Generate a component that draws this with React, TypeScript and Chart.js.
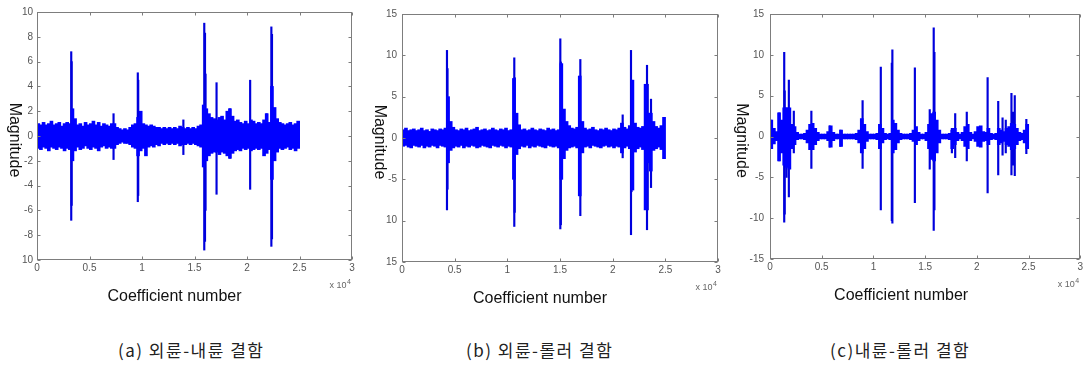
import React, { useEffect, useRef } from "react";
import { Chart, registerables } from "chart.js";

Chart.register(...registerables);

// ---------- shared axis data ----------
const binWidth = 250;
const xTickValues = [0, 5000, 10000, 15000, 20000, 25000, 30000];
const xTickLabels = ["0", "0.5", "1", "1.5", "2", "2.5", "3"];

// ---------- panel (a) ----------
const aYTicks = [-10, -8, -6, -4, -2, 0, 2, 4, 6, 8, 10];
const aYLabels = ["10", "-8", "-6", "-4", "-2", "0", "2", "4", "6", "8", "10"];
const aHigh = [
  1.0, 0.9, 1.1, 0.9, 1.0, 1.2, 0.9, 1.0, 1.1, 0.8, 1.0, 1.1, 1.0, 2.2, 1.4,
  0.9, 1.0, 0.8, 1.1, 0.9, 1.0, 1.2, 0.9, 1.1, 0.8, 1.0, 0.9, 0.8, 1.0, 1.0,
  0.7, 0.6, 0.5, 0.6, 0.5, 0.7, 0.9, 1.0, 1.5, 2.0,
  1.0, 0.9, 0.8, 0.9, 0.8, 0.7, 0.7, 0.6, 0.7, 0.6, 0.7, 0.6, 0.7, 0.6, 0.8, 0.7,
  0.6, 0.7, 0.6, 0.7, 0.6, 0.8, 0.9, 2.5, 2.2, 1.8, 1.5, 1.4, 1.3,
  1.5, 1.6, 1.3, 2.0, 2.2, 1.6, 1.2, 1.3, 1.1, 1.0, 1.2, 1.0, 1.3,
  1.2, 1.0, 1.1, 1.0, 1.3, 1.8, 1.1, 4.0, 2.3, 1.4,
  1.1, 1.0, 0.9, 1.0, 1.1, 0.9, 1.0, 1.2,
];
const aLow = [
  -1.0, -1.1, -0.9, -1.0, -1.2, -0.9, -1.0, -1.1, -0.9, -1.0, -1.2, -1.0, -1.1, -2.0, -1.2,
  -0.9, -1.1, -1.0, -0.8, -1.0, -1.1, -0.9, -1.0, -1.2, -0.9, -0.8, -1.0, -0.9, -1.0, -1.0,
  -0.7, -0.6, -0.5, -0.6, -0.6, -0.7, -0.9, -1.0, -1.6, -1.2,
  -1.0, -1.6, -0.9, -0.8, -0.9, -0.7, -0.8, -0.6, -0.7, -0.6, -0.7, -0.6, -0.7, -0.6, -0.8, -0.7,
  -0.7, -0.6, -0.7, -0.6, -0.7, -0.8, -0.9, -2.5, -2.0, -1.6, -1.4, -1.3, -1.3,
  -1.5, -1.3, -1.4, -1.6, -1.8, -1.4, -1.2, -1.1, -1.2, -1.0, -1.1, -1.0, -1.2,
  -1.1, -1.0, -1.1, -1.0, -1.6, -1.4, -1.1, -3.5, -2.0, -1.3,
  -1.0, -1.1, -1.0, -0.9, -1.1, -1.0, -1.2, -1.0,
];
const aSpikeX = [3260, 3300, 7290, 9600, 9640, 13940, 15930, 16000, 16050, 17100, 18370, 20300, 21870, 22320, 22380];
const aSpikeHigh = [6.8, 6.0, 1.8, 5.1, 4.5, 1.3, 9.1, 8.3, 5.0, 4.3, 2.2, 4.5, 1.8, 8.8, 8.2];
const aSpikeLow = [-6.8, -5.6, -1.9, -5.3, -4.8, -1.5, -9.2, -8.5, -6.0, -4.7, -1.8, -4.3, -1.3, -8.9, -8.3];

// ---------- panel (b) ----------
const bYTicks = [-15, -10, -5, 0, 5, 10, 15];
const bYLabels = ["15", "10", "-5", "0", "5", "10", "15"];
const bHigh = [
  1.0, 1.2, 0.9, 1.0, 1.1, 0.9, 1.0, 1.2, 0.9, 1.0, 0.8, 1.1, 1.0, 0.9, 1.1, 1.0, 1.2,
  5.0, 2.0, 1.3,
  1.0, 0.9, 1.1, 1.0, 1.2, 0.9, 1.0, 1.1, 1.3, 0.9, 1.0, 1.1, 0.9, 1.0, 1.2, 1.0, 0.9, 1.1, 1.0, 1.2, 0.9, 1.0,
  7.2, 3.0, 1.6,
  1.0, 1.1, 0.9, 1.0, 1.2, 1.0, 0.9, 1.1, 1.0, 0.9, 1.2, 1.0, 1.1, 0.9, 1.0,
  9.0, 3.5, 2.0, 1.5, 1.2, 1.1, 1.3, 7.5, 2.0,
  1.2, 1.0, 1.1, 1.3, 1.0, 0.9, 1.1, 1.0, 1.2, 1.0, 0.9, 1.1, 1.0, 1.2,
  1.8, 1.3, 1.1, 1.5, 7.0, 1.8, 1.3, 1.2, 1.4, 6.5, 3.0, 3.0, 2.0,
  1.4, 1.2, 1.5, 2.5,
];
const bLow = [
  -1.0, -0.9, -1.1, -1.2, -0.9, -1.0, -1.1, -0.9, -1.2, -1.0, -1.1, -0.9, -1.0, -1.2, -0.9, -1.0, -1.1,
  -3.0, -1.5, -1.2,
  -1.0, -1.1, -0.9, -1.2, -1.0, -1.1, -0.9, -1.0, -1.2, -1.1, -0.9, -1.0, -1.1, -1.2, -0.9, -1.0, -1.1, -0.9, -1.0, -1.2, -1.0, -1.1,
  -5.0, -2.0, -1.3,
  -1.0, -1.1, -0.9, -1.2, -1.0, -1.1, -0.9, -1.0, -1.1, -1.2, -0.9, -1.0, -1.1, -1.0, -1.2,
  -5.0, -2.5, -1.5, -1.2, -1.1, -1.0, -1.2, -7.0, -1.8,
  -1.1, -1.0, -1.2, -0.9, -1.0, -1.1, -1.2, -1.0, -0.9, -1.1, -1.0, -1.2, -1.0, -1.1,
  -1.8, -1.2, -1.0, -1.3, -6.3, -1.7, -1.3, -1.1, -1.4, -8.7, -3.0, -4.0, -1.5,
  -1.3, -1.1, -1.4, -2.5,
];
const bSpikeX = [4270, 4320, 10660, 10700, 15030, 15080, 16930, 20950, 21740, 21790, 23260, 23330, 23640, 24900];
const bSpikeHigh = [10.6, 8.4, 9.7, 7.3, 12.0, 9.2, 9.5, 2.8, 10.6, 7.0, 8.8, 6.5, 4.7, 2.5];
const bSpikeLow = [-8.7, -6.2, -10.7, -9.0, -11.0, -10.5, -9.4, -2.4, -11.7, -6.5, -11.1, -8.7, -6.0, -2.5];

// ---------- panel (c) ----------
const cYTicks = [-15, -10, -5, 0, 5, 10, 15];
const cYLabels = ["-15", "-10", "-5", "0", "5", "10", "15"];
const cHigh = [
  2.0, 1.0, 0.6, 2.9, 2.0, 3.5, 3.5, 3.5, 1.5, 1.2,
  0.5, 0.3, 0.3, 0.4, 0.8, 1.5, 1.6, 1.0, 0.5, 0.3,
  0.3, 0.3, 0.6, 1.3, 0.5, 0.3, 0.3, 0.8, 0.3, 0.3,
  0.3, 0.3, 0.3, 0.4, 0.8, 2.2, 1.5, 0.6, 0.3, 0.3,
  0.3, 0.4, 1.5, 1.0, 0.4, 0.3, 0.4, 2.0, 1.6, 0.8,
  0.4, 0.3, 0.3, 0.3, 0.4, 0.8, 1.2, 0.5, 0.3, 0.3,
  0.5, 1.5, 2.8, 3.0, 2.0, 0.8, 0.3, 0.3, 0.3, 0.4,
  0.8, 1.0, 0.5, 0.3, 0.5, 1.2, 1.5, 0.5, 0.3, 0.6,
  1.2, 1.3, 0.6, 0.5, 1.0, 0.4, 0.3, 0.4, 1.0, 0.8,
  0.6, 1.0, 1.2, 1.6, 1.5, 1.0, 0.5, 0.4, 0.8, 1.5,
];
const cLow = [
  -1.5, -0.9, -0.5, -3.0, -2.0, -3.5, -3.8, -4.0, -1.5, -1.0,
  -0.4, -0.3, -0.3, -0.4, -0.8, -1.6, -1.6, -1.0, -0.5, -0.3,
  -0.3, -0.3, -0.5, -1.3, -0.5, -0.3, -0.3, -1.2, -0.3, -0.3,
  -0.3, -0.3, -0.3, -0.4, -0.8, -2.0, -1.5, -0.6, -0.3, -0.3,
  -0.3, -0.4, -1.5, -0.8, -0.4, -0.3, -0.4, -2.0, -1.6, -0.8,
  -0.4, -0.3, -0.3, -0.3, -0.4, -0.6, -1.0, -0.5, -0.3, -0.3,
  -0.5, -1.5, -2.8, -3.0, -2.0, -0.8, -0.3, -0.3, -0.3, -0.4,
  -1.5, -1.0, -0.5, -0.3, -0.5, -1.2, -1.5, -0.5, -0.3, -0.6,
  -1.2, -1.3, -0.6, -0.5, -1.0, -0.4, -0.3, -0.4, -1.0, -0.8,
  -0.6, -1.0, -1.2, -1.6, -1.5, -1.0, -0.5, -0.4, -0.8, -1.5,
];
const cSpikeX = [120, 896, 1375, 1420, 1600, 1823, 2303, 4000, 5760, 6810, 8955, 10715, 11780, 11834, 14010, 15448, 15832, 15900, 17590, 17910, 19030, 21045, 22070, 22490, 22800, 23350, 23500, 23670, 24790];
const cSpikeHigh = [2.0, 2.9, 10.3, 5.6, 3.5, 6.9, 3.1, 3.1, 1.3, 0.8, 4.4, 8.5, 9.0, 10.6, 8.4, 3.3, 13.3, 10.3, 1.0, 2.8, 3.0, 7.2, 4.3, 2.3, 2.0, 5.3, 3.0, 5.0, 2.1];
const cSpikeLow = [-1.5, -3.0, -10.5, -9.5, -5.0, -7.4, -2.0, -3.9, -1.3, -1.2, -3.9, -9.0, -10.3, -10.6, -8.1, -4.0, -11.5, -9.0, -2.0, -2.6, -3.0, -6.9, -4.7, -2.3, -2.0, -4.7, -3.5, -4.8, -2.1];

const captions = ["(a) 외륜-내륜 결함", "(b) 외륜-롤러 결함", "(c)내륜-롤러 결함"];

const xTitle = "Coefficient number";
const yTitle = "Magnitude";

type PanelProps = {
  left: number;
  width: number;
  height: number;
  padTop: number;
  padRight: number;
  yAxisWidth: number;
  xAxisHeight: number;
  yTickPad: number;
  yTitleDx: number;
  xTitleDx: number;
  yMin: number;
  yMax: number;
  yStep: number;
  yTicks: number[];
  yLabels: string[];
  high: number[];
  low: number[];
  spikeX: number[];
  spikeHigh: number[];
  spikeLow: number[];
};

const FONT = '"Liberation Sans", Arial, Helvetica, sans-serif';

function Panel(p: PanelProps) {
  const ref = useRef<HTMLCanvasElement | null>(null);
  useEffect(() => {
    if (!ref.current) return;
    const frame = {
      id: "matlabFrame",
      afterDraw(chart: any) {
        const { ctx, chartArea } = chart;
        const { left, right, top, bottom } = chartArea;
        const xs = chart.scales.x;
        const ys = chart.scales.y;
        ctx.save();
        ctx.strokeStyle = "#7d7d7d";
        ctx.lineWidth = 1;
        const L = Math.round(left) + 0.5;
        const R = Math.round(right) - 0.5;
        const T = Math.round(top) + 0.5;
        const B = Math.round(bottom) - 0.5;
        ctx.strokeRect(L, T, R - L, B - T);
        ctx.beginPath();
        const tk = 3;
        xTickValues.forEach((v) => {
          const px = Math.round(xs.getPixelForValue(v)) + 0.5;
          ctx.moveTo(px, B);
          ctx.lineTo(px, B - tk);
          ctx.moveTo(px, T);
          ctx.lineTo(px, T + tk);
        });
        p.yTicks.forEach((v) => {
          const py = Math.round(ys.getPixelForValue(v)) + 0.5;
          ctx.moveTo(L, py);
          ctx.lineTo(L + tk, py);
          ctx.moveTo(R, py);
          ctx.lineTo(R - tk, py);
        });
        ctx.stroke();

        // axis titles
        ctx.fillStyle = "#111";
        ctx.font = `16px ${FONT}`;
        ctx.textAlign = "center";
        ctx.textBaseline = "middle";
        ctx.fillText(xTitle, (left + right) / 2 + p.xTitleDx, bottom + 37);

        ctx.save();
        ctx.translate(left + p.yTitleDx, (top + bottom) / 2 + 4);
        ctx.rotate(Math.PI / 2);
        ctx.fillText(yTitle, 0, 0);
        ctx.restore();

        // exponent label
        ctx.fillStyle = "#666";
        ctx.textAlign = "right";
        ctx.textBaseline = "alphabetic";
        ctx.font = `7px ${FONT}`;
        ctx.fillText("4", right - 1, bottom + 24);
        const w4 = ctx.measureText("4").width;
        ctx.font = `9px ${FONT}`;
        ctx.fillText("x 10", right - 1 - w4 - 0.5, bottom + 28);
        ctx.restore();
      },
    };

    const chart = new Chart(ref.current, {
      type: "bar",
      data: {
        datasets: [
          {
            label: "band",
            data: p.high.map((h, i) => ({ x: i * binWidth + binWidth / 2, y: [p.low[i], h] })) as any,
            backgroundColor: "#0000ff",
            borderWidth: 0,
            barThickness: 3,
            grouped: false,
          } as any,
          {
            label: "spikes",
            data: p.spikeX.map((x, i) => ({ x, y: [p.spikeLow[i], p.spikeHigh[i]] })) as any,
            backgroundColor: "#0000dd",
            borderWidth: 0,
            barThickness: 1.5,
            grouped: false,
          } as any,
        ],
      },
      options: {
        animation: false,
        responsive: false,
        maintainAspectRatio: false,
        layout: { padding: { top: p.padTop, right: p.padRight, left: 0, bottom: 0 } },
        plugins: { legend: { display: false }, tooltip: { enabled: false }, title: { display: false } },
        scales: {
          x: {
            type: "linear",
            min: 0,
            max: 30000,
            offset: false,
            grid: { display: false, drawTicks: false },
            border: { display: false },
            ticks: {
              stepSize: 5000,
              autoSkip: false,
              maxRotation: 0,
              padding: 2,
              color: "#555",
              font: { family: FONT, size: 10 },
              callback: (v: any) => {
                const k = xTickValues.indexOf(Number(v));
                return k >= 0 ? xTickLabels[k] : "";
              },
            },
            afterFit: (s: any) => {
              s.height = p.xAxisHeight;
            },
          },
          y: {
            type: "linear",
            min: p.yMin,
            max: p.yMax,
            grid: { display: false, drawTicks: false },
            border: { display: false },
            ticks: {
              stepSize: p.yStep,
              autoSkip: false,
              padding: p.yTickPad,
              color: "#555",
              font: { family: FONT, size: 10 },
              callback: (v: any) => {
                const k = p.yTicks.indexOf(Number(v));
                return k >= 0 ? p.yLabels[k] : "";
              },
            },
            afterFit: (s: any) => {
              s.width = p.yAxisWidth;
            },
          },
        },
      } as any,
      plugins: [frame],
    });
    return () => chart.destroy();
  }, []);
  return (
    <canvas
      ref={ref}
      width={p.width}
      height={p.height}
      style={{ position: "absolute", left: p.left, top: 0, width: p.width, height: p.height }}
    />
  );
}

export default function App() {
  const captionLefts = [118, 466, 830];
  return (
    <div style={{ position: "absolute", left: 0, top: 0, width: 1085, height: 365, background: "#fff", overflow: "hidden" }}>
      <Panel
        left={0} width={362} height={310} padTop={12} padRight={10}
        yAxisWidth={37} xAxisHeight={50} yTickPad={4} yTitleDx={-23} xTitleDx={-20}
        yMin={-10} yMax={10} yStep={2} yTicks={aYTicks} yLabels={aYLabels}
        high={aHigh} low={aLow} spikeX={aSpikeX} spikeHigh={aSpikeHigh} spikeLow={aSpikeLow}
      />
      <Panel
        left={360} width={370} height={310} padTop={14} padRight={12}
        yAxisWidth={42} xAxisHeight={48} yTickPad={5} yTitleDx={-23} xTitleDx={-20}
        yMin={-15} yMax={15} yStep={5} yTicks={bYTicks} yLabels={bYLabels}
        high={bHigh} low={bLow} spikeX={bSpikeX} spikeHigh={bSpikeHigh} spikeLow={bSpikeLow}
      />
      <Panel
        left={720} width={365} height={310} padTop={14} padRight={2}
        yAxisWidth={50} xAxisHeight={51} yTickPad={6} yTitleDx={-29} xTitleDx={-24}
        yMin={-15} yMax={15} yStep={5} yTicks={cYTicks} yLabels={cYLabels}
        high={cHigh} low={cLow} spikeX={cSpikeX} spikeHigh={cSpikeHigh} spikeLow={cSpikeLow}
      />
      {captions.map((c, i) => (
        <div
          key={i}
          style={{
            position: "absolute",
            left: captionLefts[i],
            top: 339,
            fontFamily: '"Noto Sans CJK KR", sans-serif',
            fontSize: 17,
            letterSpacing: "1.5px",
            lineHeight: "22px",
            color: "#222",
            whiteSpace: "nowrap",
          }}
        >
          {c}
        </div>
      ))}
    </div>
  );
}
